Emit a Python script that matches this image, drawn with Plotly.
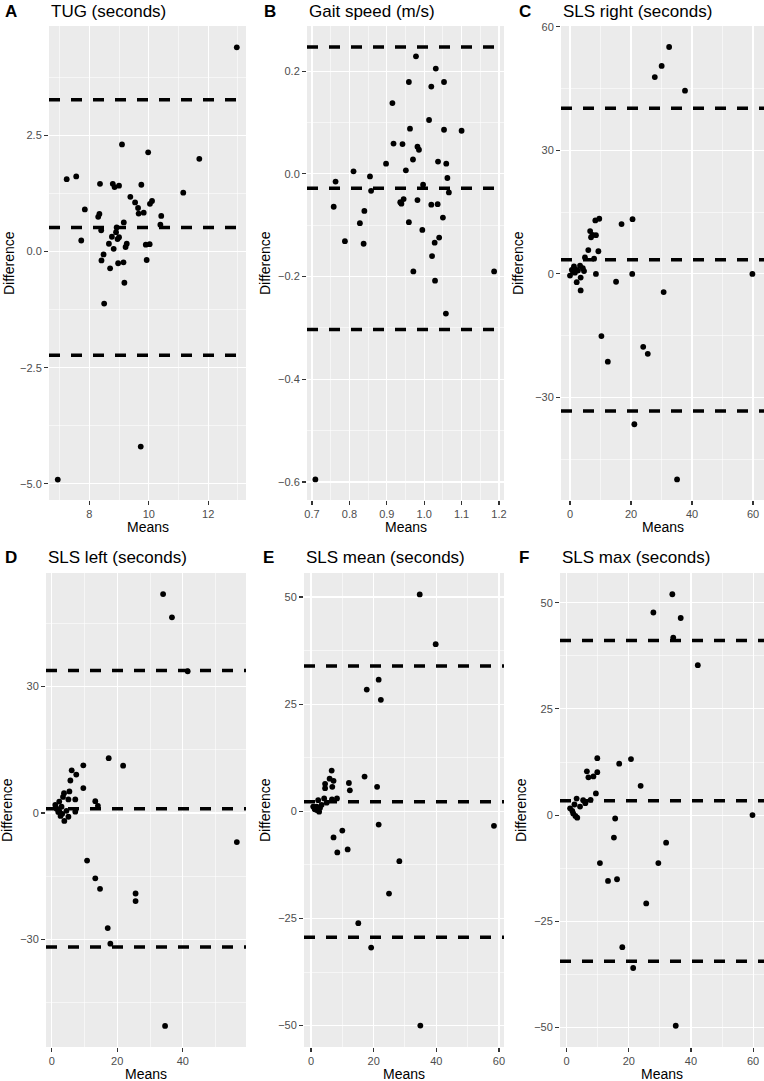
import plotly.graph_objects as go

W, H = 764, 1081

# ---------------- data ----------------
# A: TUG (seconds)
tug_means = [12.96, 9.10, 9.98, 11.70, 7.24, 7.56, 8.36, 8.79, 8.85, 9.00, 9.75, 11.16,
             9.38, 9.54, 10.11, 10.04, 7.85, 9.64, 9.66, 9.83, 8.34, 8.30, 10.42, 10.39,
             9.16, 8.40, 8.92, 8.90, 8.76, 9.00, 8.95, 7.73, 8.66, 9.26, 9.22, 8.82,
             9.90, 10.03, 8.48, 8.41, 8.97, 9.15, 9.93, 8.70, 9.18, 8.50, 9.73, 6.94]
tug_diffs = [4.40, 2.31, 2.14, 2.00, 1.56, 1.62, 1.46, 1.46, 1.39, 1.42, 1.44, 1.27,
             1.18, 1.06, 1.09, 1.03, 0.91, 0.94, 0.82, 0.84, 0.81, 0.75, 0.77, 0.58,
             0.63, 0.46, 0.52, 0.42, 0.32, 0.31, 0.27, 0.24, 0.17, 0.17, 0.10, 0.06,
             0.15, 0.16, -0.06, -0.19, -0.25, -0.23, -0.18, -0.36, -0.67, -1.12, -4.20, -4.91]
tug_limits = [3.27, 0.52, -2.23]

# B: Gait speed (m/s)
gait_means = [0.978, 1.031, 0.959, 1.053, 1.019, 0.915, 1.013, 0.962, 1.053, 1.100,
              0.918, 0.942, 0.982, 0.986, 0.970, 1.037, 1.059, 0.898, 0.951, 0.811,
              0.763, 0.855, 1.062, 0.997, 0.858, 1.066, 0.945, 0.936, 0.939, 0.982,
              1.019, 1.036, 0.758, 0.840, 1.050, 0.828, 0.959, 0.995, 0.788, 0.838,
              1.040, 1.028, 1.021, 0.971, 1.187, 1.029, 1.058, 0.709]
gait_diffs = [0.229, 0.205, 0.179, 0.179, 0.170, 0.138, 0.105, 0.088, 0.086, 0.084,
              0.059, 0.058, 0.053, 0.047, 0.028, 0.024, 0.020, 0.020, 0.007, 0.005,
              -0.015, -0.005, -0.008, -0.021, -0.033, -0.036, -0.049, -0.055, -0.058, -0.051,
              -0.060, -0.059, -0.064, -0.072, -0.085, -0.096, -0.094, -0.109, -0.131, -0.136,
              -0.124, -0.134, -0.160, -0.190, -0.190, -0.208, -0.272, -0.595]
gait_limits = [0.247, -0.028, -0.303]

# C: SLS right (seconds)
slsr_means = [32.5, 30.05, 27.8, 37.7, 9.6, 8.3, 20.5, 16.9, 6.6, 8.5, 6.9, 7.4, 6.0, 9.3,
              4.9, 7.9, 1.3, 3.3, 4.2, 0.0, 2.1, 2.2, 3.5, 3.5, 4.6, 8.5, 20.4, 15.1, 59.8,
              30.7, 10.3, 12.4, 24.0, 25.5, 21.1, 35.1, 1.0, 1.6, 2.6, 0.6]
slsr_diffs = [55.1, 50.5, 47.8, 44.5, 13.4, 13.0, 13.3, 12.1, 10.4, 9.4, 8.9, 9.5, 5.8, 5.5,
              4.0, 3.7, 1.8, 2.0, 1.4, -0.4, 1.0, -2.0, -0.9, -4.0, 0.7, 0.0, 0.0, -1.9, 0.0,
              -4.4, -15.1, -21.3, -17.7, -19.4, -36.5, -49.9, 0.5, 0.3, 0.8, 1.0]
slsr_limits = [40.2, 3.45, -33.3]

# D: SLS left (seconds)
slsl_means = [34.0, 36.7, 41.5, 17.4, 21.8, 9.65, 6.1, 7.5, 5.7, 9.65, 5.4, 3.76, 3.45, 5.1,
              7.2, 13.3, 14.1, 1.1, 2.3, 2.3, 2.7, 3.85, 5.1, 7.2, 56.5, 10.8, 13.3, 14.75,
              25.6, 25.6, 17.1, 17.9, 34.6, 1.5, 2.0, 3.0, 4.5, 3.2]
slsl_diffs = [51.9, 46.4, 33.6, 13.0, 11.2, 11.3, 10.1, 9.1, 7.7, 5.9, 5.1, 4.7, 3.8, 3.2,
              3.2, 2.8, 1.7, 1.9, 2.7, 0.5, -0.7, -1.9, -0.9, 0.3, -6.9, -11.3, -15.5, -18.0,
              -19.1, -20.9, -27.3, -31.0, -50.5, 1.0, 0.2, 1.5, 0.5, -0.2]
slsl_limits = [33.8, 1.0, -31.8]

# E: SLS mean (seconds)
slsm_means = [34.7, 39.8, 17.8, 21.6, 22.3, 17.1, 6.6, 12.1, 12.4, 21.1, 5.95, 7.2, 4.5, 4.5,
              6.8, 8.3, 6.7, 2.3, 4.2, 0.7, 1.8, 3.4, 1.8, 2.6, 7.2, 10.0, 8.4, 11.7, 21.6,
              58.4, 28.2, 24.9, 15.1, 19.2, 34.9, 1.2, 2.9, 5.0]
slsm_diffs = [50.6, 39.0, 28.4, 30.7, 26.0, 8.1, 9.5, 6.6, 4.9, 5.7, 7.6, 7.1, 6.4, 5.4,
              5.7, 3.0, 2.8, 2.6, 3.0, 1.1, 1.1, 1.5, 0.3, -0.1, -6.1, -4.5, -9.6, -8.9, -3.1,
              -3.4, -11.65, -19.2, -26.1, -31.8, -50.0, 0.5, 0.8, 2.0]
slsm_limits = [33.9, 2.2, -29.4]

# F: SLS max (seconds)
slsx_means = [34.0, 27.9, 36.7, 34.3, 42.2, 9.85, 20.7, 16.9, 6.5, 9.85, 7.0, 8.6, 23.8, 9.4,
              7.7, 3.2, 5.3, 1.1, 4.3, 2.1, 2.8, 3.4, 15.6, 59.8, 15.2, 32.0, 10.7, 29.5,
              13.3, 16.2, 25.6, 17.9, 21.4, 35.1, 1.8, 2.5, 6.0]
slsx_diffs = [52.0, 47.7, 46.4, 41.8, 35.3, 13.4, 13.2, 12.1, 10.3, 10.1, 8.9, 9.1, 6.9, 5.1,
              3.6, 3.9, 3.5, 1.6, 2.0, 0.4, -0.2, -0.6, -0.8, 0.0, -5.3, -6.5, -11.3, -11.3,
              -15.5, -15.1, -20.8, -31.1, -36.0, -49.6, 1.0, 2.5, 2.8]
slsx_limits = [41.1, 3.4, -34.4]

panel_letters = ["A", "B", "C", "D", "E", "F"]
panel_titles = ["TUG (seconds)", "Gait speed (m/s)", "SLS right (seconds)",
                "SLS left (seconds)", "SLS mean (seconds)", "SLS max (seconds)"]
x_label = "Means"
y_label = "Difference"

# ---------------- layout geometry (pixels) ----------------
panels = [
    (tug_means, tug_diffs, tug_limits, (49, 246, 26, 500), [6.645, 13.27], [-5.35, 4.86], 2, 2.5, "", ".1f"),
    (gait_means, gait_diffs, gait_limits, (307, 504, 26, 500), [0.6866, 1.2134], [-0.635, 0.288], 0.1, 0.2, ".1f", ".1f"),
    (slsr_means, slsr_diffs, slsr_limits, (561, 764, 26, 500), [-2.95, 63.6], [-54.9, 60.2], 20, 30, "", ""),
    (slsl_means, slsl_diffs, slsl_limits, (46, 246, 573, 1047), [-1.74, 59.3], [-55.5, 56.9], 20, 30, "", ""),
    (slsm_means, slsm_diffs, slsm_limits, (304, 504, 573, 1047), [-2.23, 61.6], [-55.0, 55.6], 20, 25, "", ""),
    (slsx_means, slsx_diffs, slsx_limits, (560, 764, 573, 1047), [-2.15, 63.5], [-54.6, 57.0], 20, 25, "", ""),
]
letter_x = [3, 262, 517, 3, 261, 517]
ytitle_x = [9, 265, 518, 7, 265, 521]

FONT = "Liberation Sans, Arial, sans-serif"
fig = go.Figure()
annotations = []
shapes = []

def px_x(p):
    return p / W

def px_y(p):
    return 1 - p / H

for i, (mx, dy, lims, box, xr, yr, xdt, ydt, xf, yf) in enumerate(panels):
    n = "" if i == 0 else str(i + 1)
    xa, ya = "x" + n, "y" + n
    x0, x1, y0, y1 = box
    fig.add_trace(go.Scatter(x=mx, y=dy, mode="markers", xaxis=xa, yaxis=ya,
                             marker=dict(color="black", size=5.8, line=dict(width=0)),
                             showlegend=False, hoverinfo="skip"))
    common = dict(showgrid=True, gridcolor="white", gridwidth=1.1, zeroline=False,
                  showline=False, ticks="outside", ticklen=4, tickwidth=1.1,
                  tickcolor="#333333", tickfont=dict(family=FONT, size=11, color="#4D4D4D"),
                  fixedrange=True, automargin=False)
    xaxis = dict(common, domain=[px_x(x0), px_x(x1)], range=xr, dtick=xdt, tick0=0,
                 anchor=ya, tickformat=xf,
                 minor=dict(dtick=xdt / 2, tick0=0, showgrid=True, gridcolor="white",
                            gridwidth=0.55, ticks=""))
    yaxis = dict(common, domain=[px_y(y1), px_y(y0)], range=yr, dtick=ydt, tick0=0,
                 anchor=xa, tickformat=yf,
                 minor=dict(dtick=ydt / 2, tick0=0, showgrid=True, gridcolor="white",
                            gridwidth=0.55, ticks=""))
    fig.update_layout(**{"xaxis" + n: xaxis, "yaxis" + n: yaxis})

    for v in lims:
        shapes.append(dict(type="line", xref=xa + " domain", yref=ya, x0=0, x1=1,
                           y0=v, y1=v, line=dict(color="black", width=3.5, dash="11px,11px"),
                           layer="above"))

    row_title_y = 11 if y0 < 100 else 557
    annotations.append(dict(text="<b>%s</b>" % panel_letters[i], x=px_x(letter_x[i]),
                            y=px_y(row_title_y), xref="paper", yref="paper",
                            xanchor="left", yanchor="middle", showarrow=False,
                            font=dict(family=FONT, size=17, color="black")))
    annotations.append(dict(text=panel_titles[i], x=px_x(x0), y=px_y(row_title_y),
                            xref="paper", yref="paper", xanchor="left", yanchor="middle",
                            showarrow=False, font=dict(family=FONT, size=17, color="black")))
    annotations.append(dict(text=x_label, x=px_x((x0 + x1) / 2), y=px_y(y1 + 27),
                            xref="paper", yref="paper", xanchor="center", yanchor="middle",
                            showarrow=False, font=dict(family=FONT, size=14, color="black")))
    annotations.append(dict(text=y_label, x=px_x(ytitle_x[i]), y=px_y((y0 + y1) / 2),
                            xref="paper", yref="paper", xanchor="center", yanchor="middle",
                            textangle=-90, showarrow=False,
                            font=dict(family=FONT, size=14, color="black")))

fig.update_layout(width=W, height=H, margin=dict(l=0, r=0, t=0, b=0, autoexpand=False),
                  paper_bgcolor="white", plot_bgcolor="#EBEBEB",
                  shapes=shapes, annotations=annotations, showlegend=False)

fig.write_html("out.html", config={"displayModeBar": False, "staticPlot": True},
               post_script="document.body.style.margin='0px';document.body.style.padding='0px';")
